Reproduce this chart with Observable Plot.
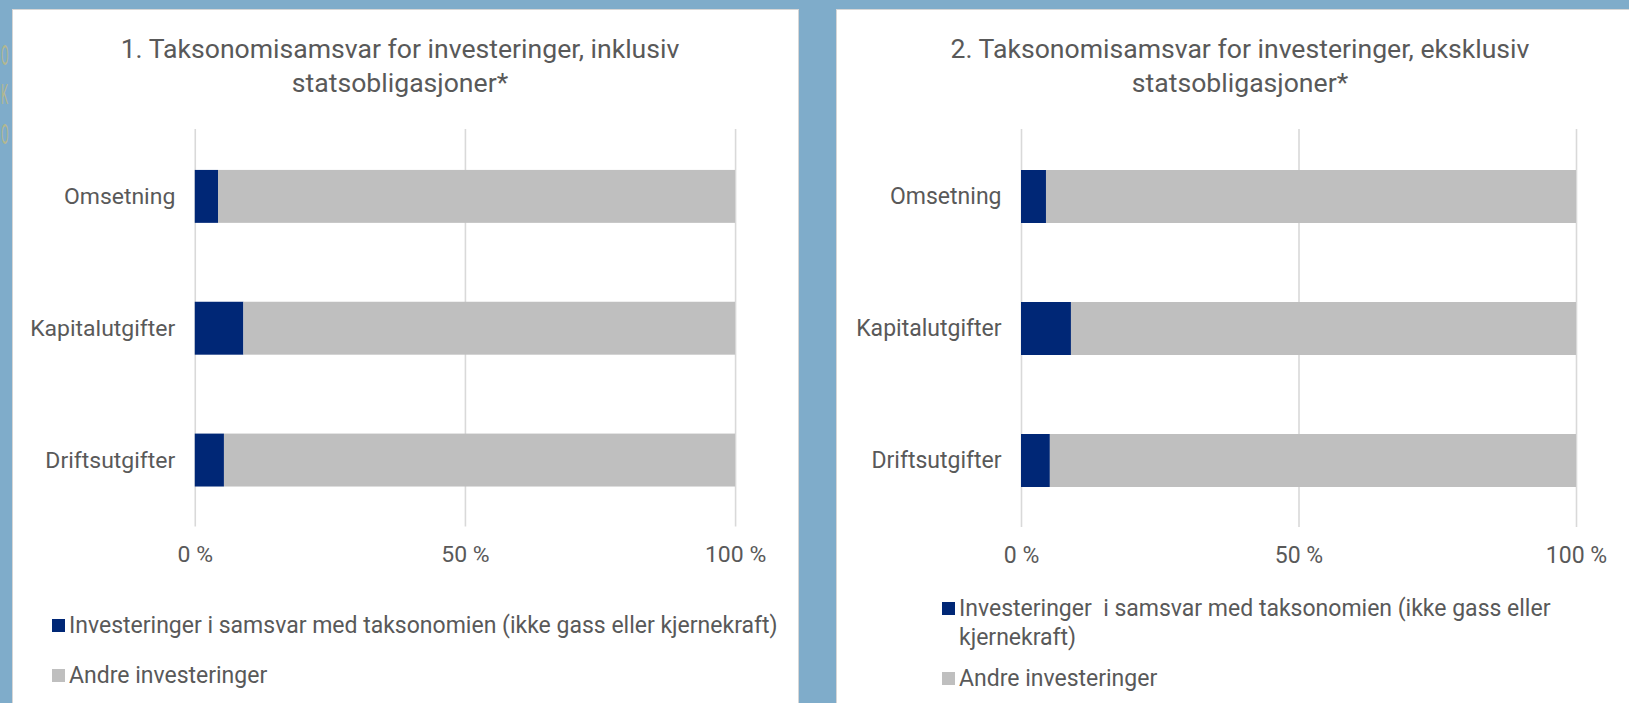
<!DOCTYPE html>
<html>
<head>
<meta charset="utf-8">
<script src="https://cdn.jsdelivr.net/npm/d3@7"></script>
<script src="https://cdn.jsdelivr.net/npm/@observablehq/plot@0.6"></script>
<style>
  html, body { margin: 0; padding: 0; }
  body { width: 1629px; height: 703px; overflow: hidden; background: #7facca; position: relative; font-family: Roboto, "Open Sans", sans-serif; color: #595959; }
  .panel { position: absolute; background: #ffffff; box-shadow: 0 0 0 1px #d6d6d6; overflow: hidden; }
  .title { position: absolute; text-align: center; font-size: 26.6px; line-height: 34px; color: #595959; white-space: nowrap; }
  .chart { position: absolute; left: 0; }
  .legend { position: absolute; font-size: 23px; line-height: 29px; color: #595959; }
  .item { position: absolute; white-space: pre; }
  .sw { position: absolute; width: 13px; height: 13px; }
  .edge { position: absolute; left: 1px; font-size: 28px; line-height: 28px; color: #b4b88f; transform: scaleX(0.4); transform-origin: 0 0; }
</style>
</head>
<body>
<div class="panel" id="p1" style="left:13px; top:10px; width:785px; height:700px;"></div>
<div class="panel" id="p2" style="left:837px; top:10px; width:800px; height:700px;"></div>
<script>
// ---- data ----
const categories = ["Omsetning", "Kapitalutgifter", "Driftsutgifter"];
const seriesNames = [
  "Investeringer i samsvar med taksonomien (ikke gass eller kjernekraft)",
  "Andre investeringer"
];
const seriesColors = ["#002776", "#bfbfbf"];
const alignedIncl = [4.3, 9.0, 5.4];
const otherIncl = [95.7, 91.0, 94.6];
const alignedExcl = [4.5, 9.0, 5.2];
const otherExcl = [95.5, 91.0, 94.8];
const xTicks = [0, 50, 100];
const titleIncl = ["1. Taksonomisamsvar for investeringer, inklusiv", "statsobligasjoner*"];
const titleExcl = ["2. Taksonomisamsvar for investeringer, eksklusiv", "statsobligasjoner*"];
const legendExclLines = ["Investeringer  i samsvar med taksonomien (ikke gass eller", "kjernekraft)"];
const edgeGlyphs = ["O", "K", "O"];
const edgeTops = [42, 81, 121];

edgeGlyphs.forEach((g, i) => {
  const e = document.createElement("div");
  e.className = "edge";
  e.style.top = edgeTops[i] + "px";
  e.textContent = g;
  document.body.insertBefore(e, document.body.firstChild);
});

function rows(aligned, other) {
  const out = [];
  categories.forEach((c, i) => {
    out.push({cat: c, series: seriesNames[0], value: aligned[i]});
    out.push({cat: c, series: seriesNames[1], value: other[i]});
  });
  return out;
}

function makeChart(data, marginLeft, width, marginRight) {
  return Plot.plot({
    width: width,
    height: 477,
    marginTop: 19,
    marginBottom: 60,
    marginLeft: marginLeft,
    marginRight: marginRight,
    style: {fontFamily: "Roboto, 'Open Sans', sans-serif", color: "#595959", background: "transparent"},
    x: {domain: [0, 100], label: null},
    y: {domain: categories, paddingInner: 0.6, paddingOuter: 0.3, label: null},
    color: {domain: seriesNames, range: seriesColors},
    marks: [
      Plot.gridX({ticks: xTicks, stroke: "#d9d9d9", strokeOpacity: 1, strokeWidth: 1.6}),
      Plot.barX(data, {y: "cat", x: "value", fill: "series", order: seriesNames}),
      Plot.axisX({ticks: xTicks, tickSize: 0, tickPadding: 19, fontSize: 23, tickFormat: d => d + " %", label: null}),
      Plot.axisY({tickSize: 0, tickPadding: 20, fontSize: 23, label: null})
    ]
  });
}

function addTitle(panel, lines, centerX) {
  const t = document.createElement("div");
  t.className = "title";
  t.style.top = "22px";
  t.style.left = (centerX - 400) + "px";
  t.style.width = "800px";
  t.innerHTML = lines.join("<br>");
  panel.appendChild(t);
}

function addLegend(panel, x, items) {
  items.forEach(it => {
    const sw = document.createElement("div");
    sw.className = "sw";
    sw.style.background = it.color;
    sw.style.left = x + "px";
    sw.style.top = (it.center - 6.5) + "px";
    panel.appendChild(sw);
    const tx = document.createElement("div");
    tx.className = "item legend";
    tx.style.left = (x + 17) + "px";
    tx.style.top = (it.center - 14.5) + "px";
    tx.textContent = it.lines.join("\n");
    panel.appendChild(tx);
  });
}

const p1 = document.getElementById("p1");
const p2 = document.getElementById("p2");

addTitle(p1, titleIncl, 387);
addTitle(p2, titleExcl, 403);

const c1 = makeChart(rows(alignedIncl, otherIncl), 182, 786, 63);
c1.classList.add("chart");
c1.style.top = "100px";
p1.appendChild(c1);

const c2 = makeChart(rows(alignedExcl, otherExcl), 184, 792, 53);
c2.classList.add("chart");
c2.style.top = "100px";
p2.appendChild(c2);

addLegend(p1, 39, [
  {lines: [seriesNames[0]], color: seriesColors[0], center: 615.5},
  {lines: [seriesNames[1]], color: seriesColors[1], center: 665}
]);
addLegend(p2, 105, [
  {lines: legendExclLines, color: seriesColors[0], center: 598},
  {lines: [seriesNames[1]], color: seriesColors[1], center: 668}
]);
</script>
</body>
</html>
